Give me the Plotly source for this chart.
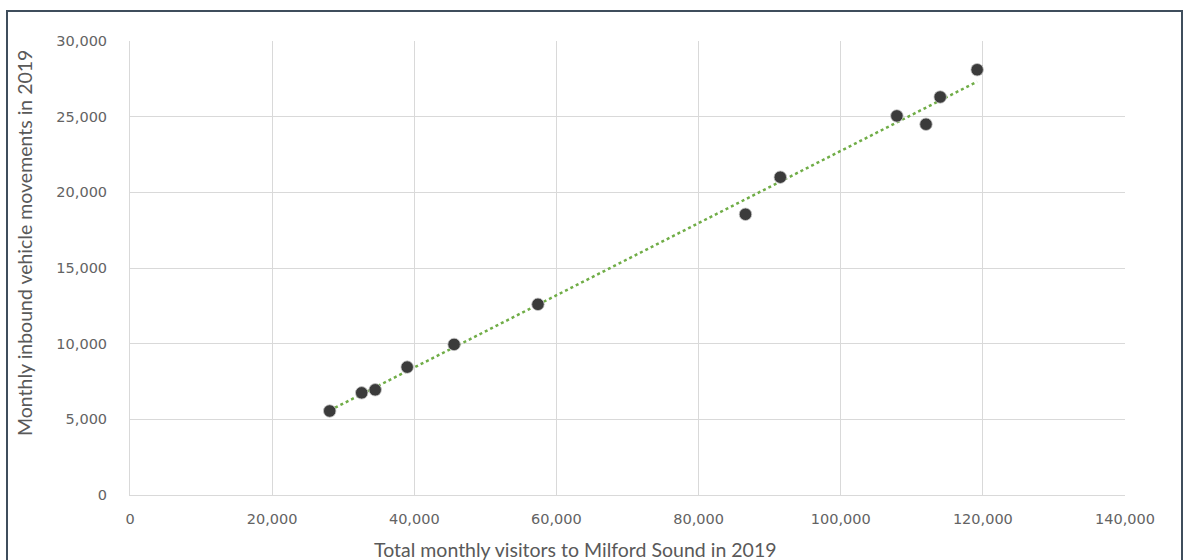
import numpy as np
import plotly.graph_objects as go

# Monthly visitors to Milford Sound vs inbound vehicle movements, 2019
visitors = [28100, 32600, 34500, 39000, 45600, 57400, 86600, 91500, 107900, 112000, 114000, 119200]
vehicles = [5550, 6750, 6950, 8450, 9950, 12600, 18550, 21000, 25050, 24500, 26300, 28100]

x_ticks = [0, 20000, 40000, 60000, 80000, 100000, 120000, 140000]
y_ticks = [0, 5000, 10000, 15000, 20000, 25000, 30000]

x_title = "Total monthly visitors to Milford Sound in 2019"
y_title = "Monthly inbound vehicle movements in 2019"

# Linear trendline fitted through the observations
slope, intercept = np.polyfit(visitors, vehicles, 1)
trend_x = [min(visitors), max(visitors)]
trend_y = [slope * v + intercept for v in trend_x]

fig = go.Figure()
fig.add_trace(go.Scatter(
    x=trend_x, y=trend_y, mode="lines",
    line=dict(color="#70AD47", width=2.5, dash="dot"),
    hoverinfo="skip", showlegend=False,
))
fig.add_trace(go.Scatter(
    x=visitors, y=vehicles, mode="markers",
    marker=dict(size=12.5, color="#3b3b3b", line=dict(color="#c8c8c8", width=0.8)),
    showlegend=False,
))

tick_font = dict(family="DejaVu Sans", size=14.5, color="#636363")
title_font = dict(family="Lato", size=19.5, color="#595959")

# plot area in pixels: left 130, right 1125, top 41, bottom 495
PW, PH = 995, 454

fig.update_layout(
    width=1186, height=560,
    margin=dict(l=130, r=61, t=41, b=65),
    paper_bgcolor="white", plot_bgcolor="white",
    xaxis=dict(
        range=[0, 140000], tickvals=x_ticks, tickformat=",",
        showgrid=True, gridcolor="#d9d9d9", gridwidth=1,
        zeroline=False, showline=True, linecolor="#d9d9d9", linewidth=1,
        ticks="", ticklabelstandoff=11, tickfont=tick_font, automargin=False,
    ),
    yaxis=dict(
        range=[0, 30000], tickvals=y_ticks, tickformat=",",
        showgrid=True, gridcolor="#d9d9d9", gridwidth=1,
        zeroline=False, showline=True, linecolor="#d9d9d9", linewidth=1,
        ticks="", ticklabelstandoff=19, tickfont=tick_font, automargin=False,
    ),
    annotations=[
        dict(text=x_title, xref="paper", yref="paper",
             x=(575 - 130) / PW, y=(495 - 549) / PH,
             xanchor="center", yanchor="middle", showarrow=False, font=title_font),
        dict(text=y_title, xref="paper", yref="paper",
             x=(24 - 130) / PW, y=(495 - 243) / PH, textangle=-90,
             xanchor="center", yanchor="middle", showarrow=False, font=title_font),
    ],
    shapes=[dict(
        type="rect", xref="paper", yref="paper",
        x0=-123 / PW, x1=1 + 57 / PW, y0=-0.2, y1=1 + 30 / PH,
        line=dict(color="#3f4e5c", width=2), fillcolor="rgba(0,0,0,0)", layer="below",
    )],
)

fig.write_html("out.html")
